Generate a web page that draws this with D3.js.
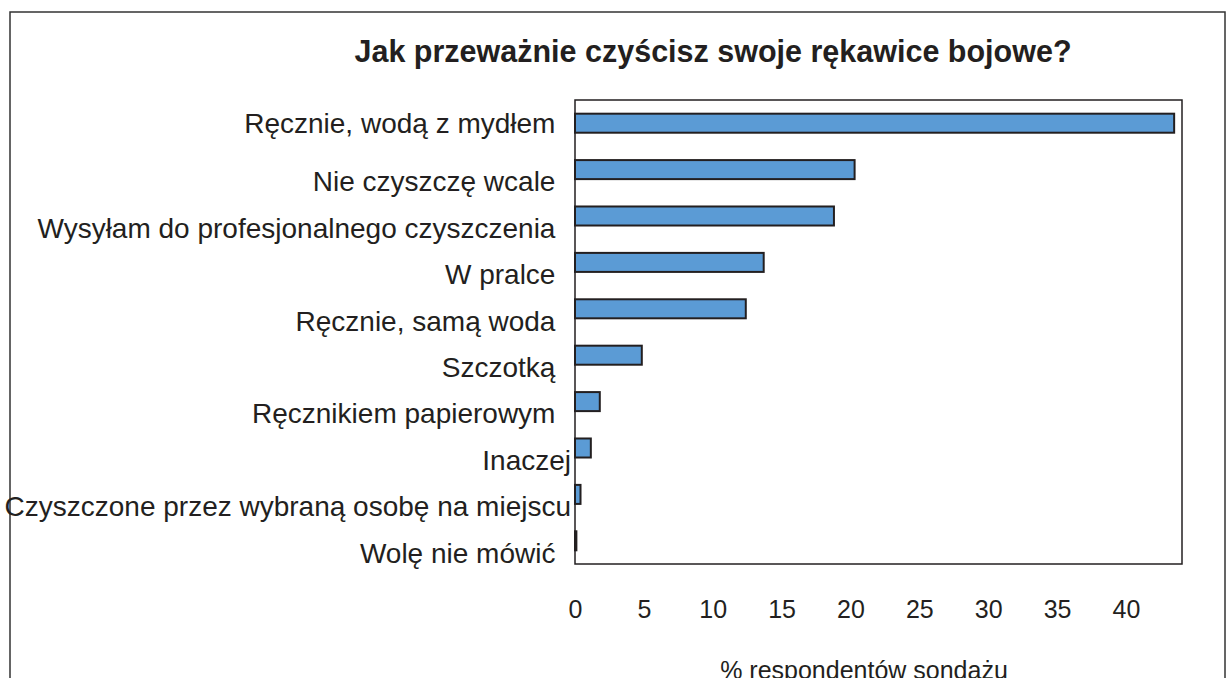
<!DOCTYPE html>
<html>
<head>
<meta charset="utf-8">
<script src="https://cdn.jsdelivr.net/npm/d3@7"></script>
<style>
  html, body { margin: 0; padding: 0; background: #fff; }
  svg { display: block; }
  text { font-family: "Liberation Sans", Arial, Helvetica, sans-serif; fill: #231f20; }
</style>
</head>
<body>
<svg id="chart" width="1226" height="678"></svg>
<script>
const title = "Jak przeważnie czyścisz swoje rękawice bojowe?";
const xAxisTitle = "% respondentów sondażu";
const categories = [
  "Ręcznie, wodą z mydłem  ",
  "Nie czyszczę wcale  ",
  "Wysyłam do profesjonalnego czyszczenia  ",
  "W pralce  ",
  "Ręcznie, samą woda  ",
  "Szczotką  ",
  "Ręcznikiem papierowym  ",
  "Inaczej",
  "Czyszczone przez wybraną osobę na miejscu",
  "Wolę nie mówić  "
];
const values = [43.5, 20.3, 18.8, 13.7, 12.4, 4.85, 1.8, 1.15, 0.4, 0.1];
const xTicks = [0, 5, 10, 15, 20, 25, 30, 35, 40];

const svg = d3.select("#chart");

// outer frame
svg.append("rect")
  .attr("x", 10).attr("y", 12)
  .attr("width", 1215).attr("height", 700)
  .attr("fill", "none").attr("stroke", "#333").attr("stroke-width", 1.5);

const plot = { left: 575, right: 1182, top: 100, bottom: 564 };

const x = d3.scaleLinear().domain([0, 44.07]).range([plot.left, plot.right]);
const y = d3.scaleBand().domain(categories).range([plot.top, plot.bottom])
  .paddingInner(0.59).paddingOuter(0.295);

// title
svg.append("text")
  .attr("x", 713).attr("y", 62)
  .attr("text-anchor", "middle")
  .style("font-size", "30.5px").style("font-weight", "bold")
  .text(title);

// plot frame
svg.append("rect")
  .attr("x", plot.left).attr("y", plot.top)
  .attr("width", plot.right - plot.left).attr("height", plot.bottom - plot.top)
  .attr("fill", "none").attr("stroke", "#231f20").attr("stroke-width", 1.5);

// bars
svg.append("g").selectAll("rect")
  .data(values)
  .join("rect")
  .attr("x", x(0))
  .attr("y", (d, i) => y(categories[i]))
  .attr("width", d => x(d) - x(0))
  .attr("height", y.bandwidth())
  .attr("fill", "#5b9bd5")
  .attr("stroke", "#231f20")
  .attr("stroke-width", 2);

// category labels (y axis)
const yAxis = d3.axisLeft(y).tickSize(0).tickPadding(4);
const gy = svg.append("g").attr("transform", `translate(${plot.left},0)`).call(yAxis);
gy.select(".domain").remove();
gy.selectAll("text")
  .style("font-size", "28px")
  .style("white-space", "pre")
  .attr("fill", "#231f20")
  .attr("font-family", null)
  .attr("dy", (d, i) => i === 0 ? "0.35em" : "0.78em");

// x axis tick labels
const xAxis = d3.axisBottom(x).tickValues(xTicks).tickSize(0).tickPadding(0);
const gx = svg.append("g").attr("transform", `translate(0,618)`).call(xAxis);
gx.select(".domain").remove();
gx.selectAll("text")
  .style("font-size", "25px")
  .attr("fill", "#231f20")
  .attr("font-family", null)
  .attr("y", 0)
  .attr("dy", "0");

// x axis title
svg.append("text")
  .attr("x", 864).attr("y", 679)
  .attr("text-anchor", "middle")
  .style("font-size", "25px")
  .text(xAxisTitle);
</script>
</body>
</html>
